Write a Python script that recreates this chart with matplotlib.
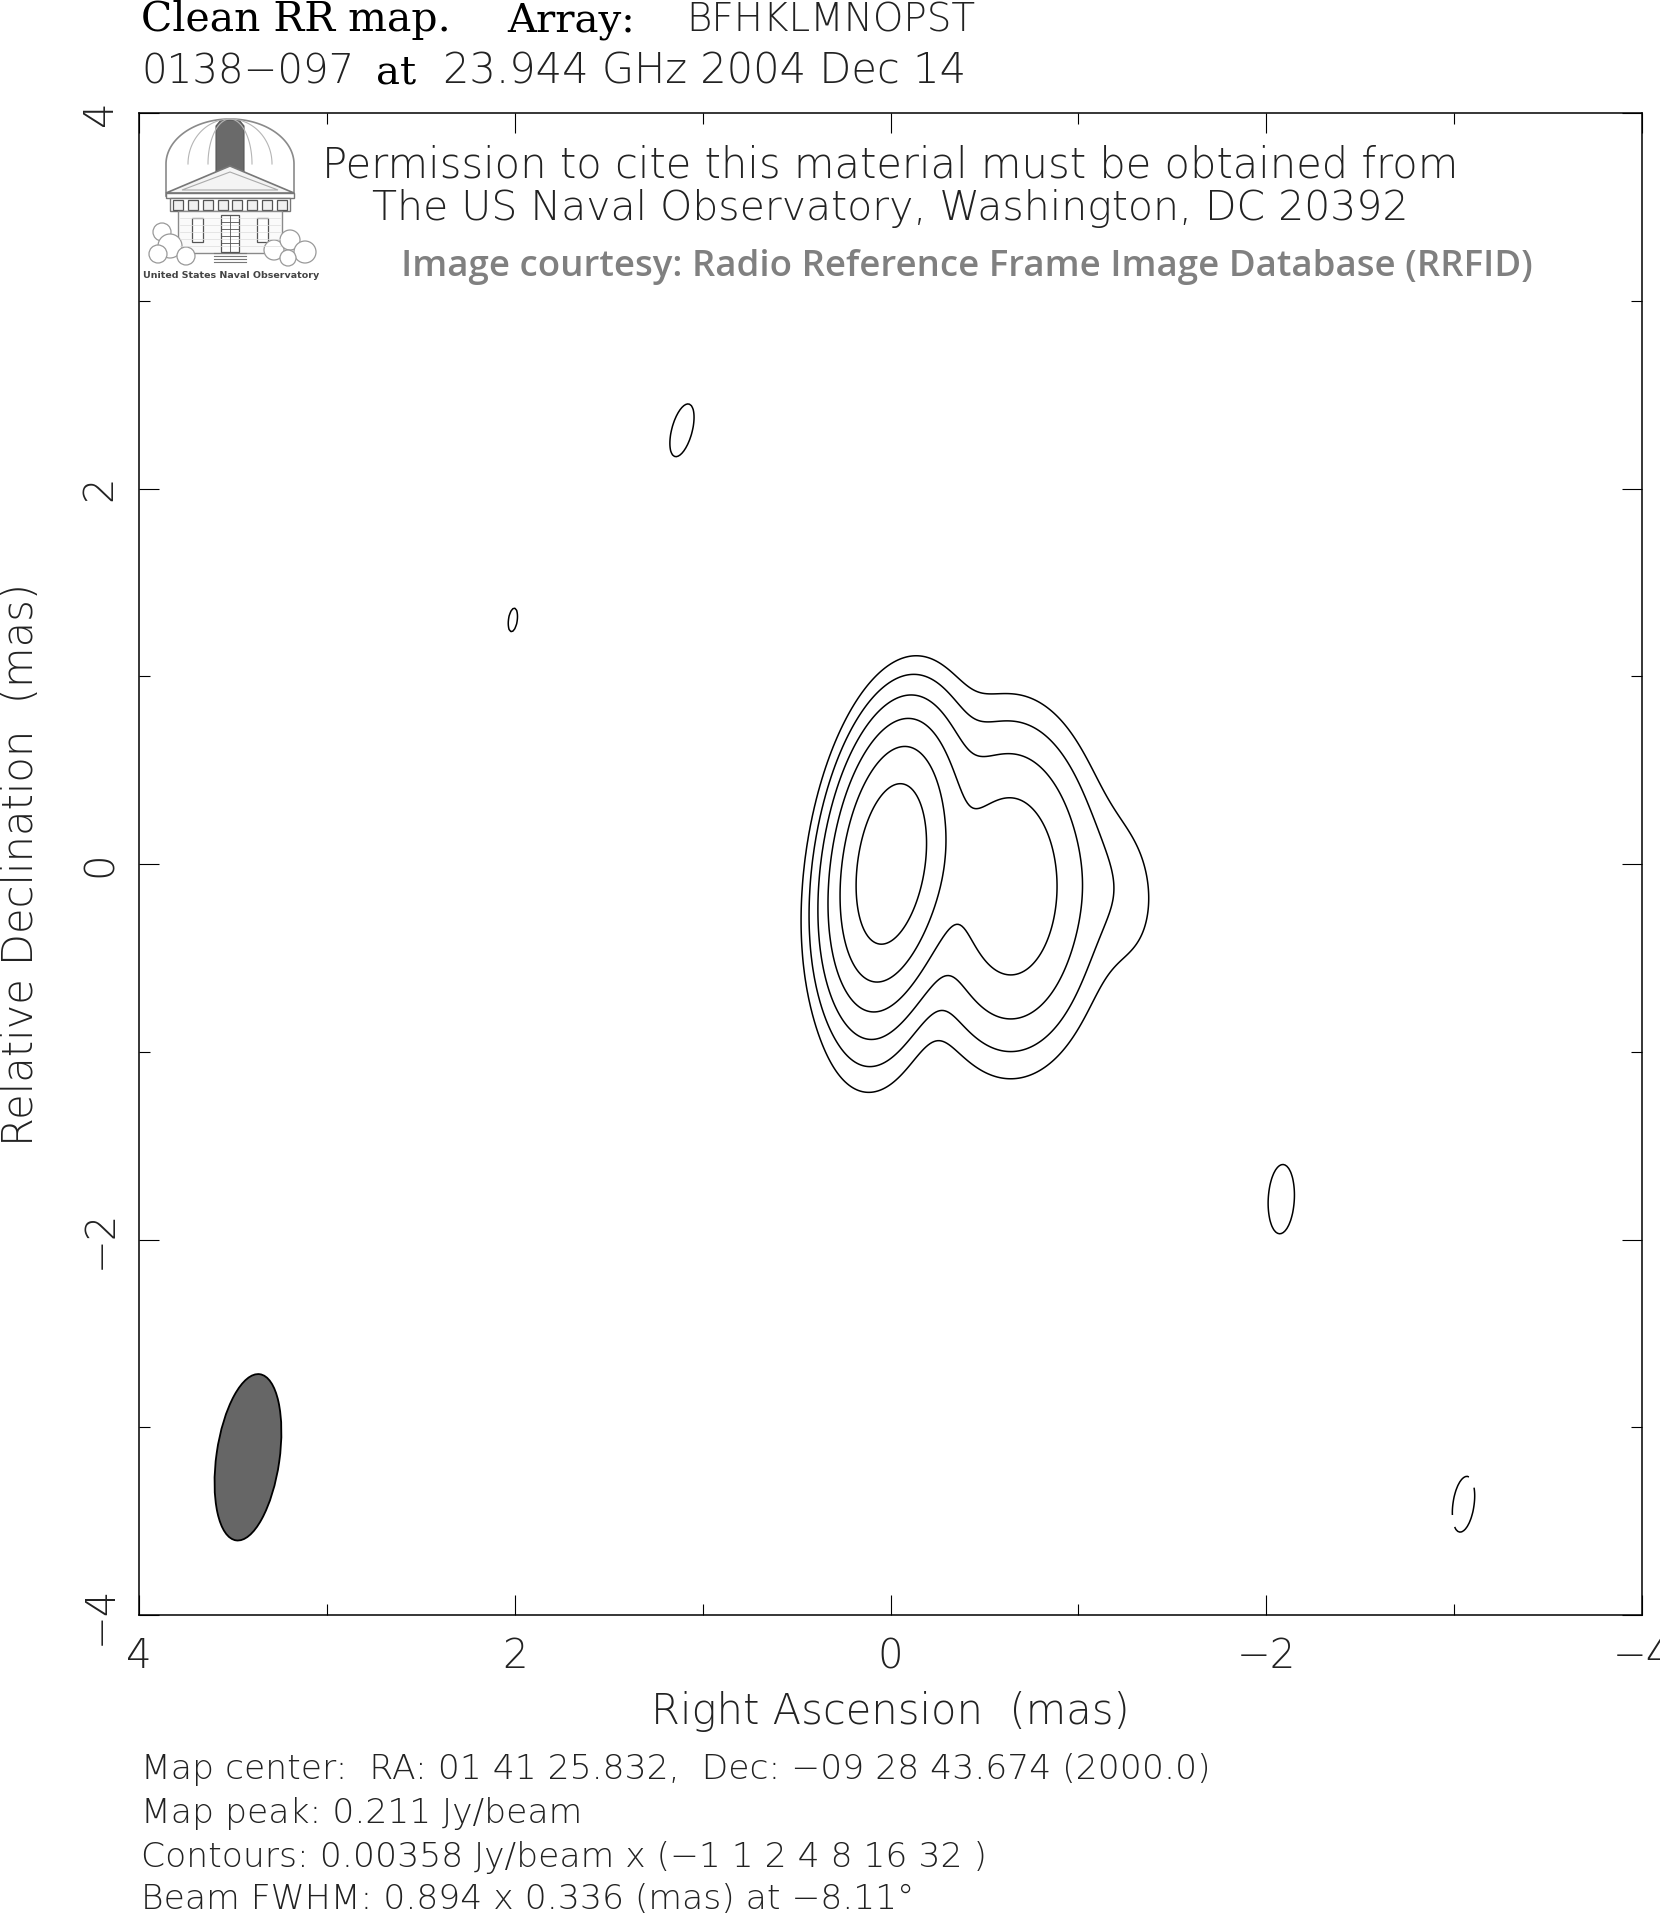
#! /usr/bin/env python3

import numpy as np
import matplotlib
matplotlib.use('Agg')
import matplotlib.pyplot as plt
from matplotlib.patches import Ellipse, Polygon, Rectangle, Circle

# map annotation values
unit = 0.00358                      # Jy/beam, lowest contour
contour_mult = [-1, 1, 2, 4, 8, 16, 32]
beam_maj = 0.894                    # mas
beam_min = 0.336
beam_pa = -8.11                     # deg
beam_ra = 3.42
beam_dec = -3.16

# clean-map components (mas, Jy/beam, FWHM mas, PA deg)
comp_ra   = [0.00, -0.64, -1.25, 0.08, 1.11, 2.01, -2.08, -3.05]
comp_dec  = [0.00, -0.12, -0.15, -1.00, 2.31, 1.30, -1.785, -3.41]
comp_peak = [0.209, 0.050, 0.0045, 0.003, 0.00385, 0.00363, 0.00403, -0.00387]
comp_maj  = [0.92, 1.05, 0.75, 0.60, 0.894, 0.894, 0.894, 0.894]
comp_min  = [0.375, 0.545, 0.36, 0.40, 0.336, 0.336, 0.336, 0.336]
comp_pa   = [-8.0, 0.0, 5.0, -8.0, -15.0, -8.0, -3.0, -8.0]

tick_pos = [4, 2, 0, -2, -4]
tick_lab = ['4', '2', '0', '\u22122', '\u22124']

W, H = 1660, 1916
SANS = 'DejaVu Sans'
SERIF = 'DejaVu Serif'
INK = '#222222'
THIN = 200


def fx(px):
	return px / W


def fy(py):
	return 1 - py / H


def make_map():
	ra = np.linspace(-4.2, 4.2, 841)
	dec = np.linspace(-4.2, 4.2, 841)
	RA, DEC = np.meshgrid(ra, dec)
	img = np.zeros_like(RA)
	for x0, y0, a, mj, mn, pa in zip(comp_ra, comp_dec, comp_peak, comp_maj, comp_min, comp_pa):
		t = np.radians(pa)
		dx = RA - x0
		dy = DEC - y0
		u = dx * np.sin(t) + dy * np.cos(t)
		v = dx * np.cos(t) - dy * np.sin(t)
		img += a * np.exp(-4 * np.log(2) * (u**2 / mj**2 + v**2 / mn**2))
	return RA, DEC, img


def draw_logo(fig):
	# USNO emblem, drawn in figure pixel units
	lg = fig.add_axes([fx(140), fy(290), 185 / W, 175 / H])
	lg.set_xlim(140, 325)
	lg.set_ylim(290, 115)
	lg.axis('off')
	edge = '#8a8a8a'
	# dome on a drum
	th = np.linspace(0, np.pi, 100)
	dx = np.concatenate([[294], 230 + 64 * np.cos(th), [166]])
	dy = np.concatenate([[196], 164 - 45 * np.sin(th), [196]])
	lg.fill(dx, dy, color='white', ec=edge, lw=1.2)
	for rx in [42, 22]:
		lg.plot(230 + rx * np.cos(th), 164 - 45 * np.sin(th), color='#b5b5b5', lw=0.8)
	lg.add_patch(Polygon([(216, 126), (221, 120), (239, 120), (244, 126), (244, 190), (216, 190)],
						 closed=True, fc='#6a6a6a', ec='#555555', lw=0.8))
	# roof
	lg.add_patch(Polygon([(166, 193), (230, 166), (294, 193)], closed=True, fc='#f4f4f4', ec='#777777', lw=1.2))
	lg.add_patch(Polygon([(182, 190), (230, 172), (278, 190)], closed=True, fc='none', ec='#aaaaaa', lw=0.8))
	# colonnade
	lg.add_patch(Rectangle((166, 193), 128, 5, fc='white', ec='#777777', lw=1))
	lg.add_patch(Rectangle((170, 198), 120, 13, fc='white', ec='#777777', lw=1))
	for wx in np.linspace(173, 277, 8):
		lg.add_patch(Rectangle((wx, 200), 10, 10, fc='#f0f0f0', ec='#555555', lw=0.9))
	# lower wall with door and windows
	lg.add_patch(Rectangle((178, 211), 104, 42, fc='#fafafa', ec=edge, lw=1))
	for by in [218, 225, 232, 239, 246]:
		lg.plot([180, 280], [by, by], color='#dddddd', lw=0.5)
	lg.add_patch(Rectangle((221, 215), 18, 37, fc='white', ec='#555555', lw=0.9))
	lg.plot([230, 230], [215, 252], color='#555555', lw=0.6)
	for wy in [222, 229, 236, 243]:
		lg.plot([221, 239], [wy, wy], color='#555555', lw=0.6)
	for wx in [192, 257]:
		lg.add_patch(Rectangle((wx, 218), 11, 24, fc='white', ec='#555555', lw=0.9))
	for sy in [253, 256, 259, 262]:
		lg.plot([214, 246], [sy, sy], color='#777777', lw=0.8)
	# bushes
	for cx, cy, r in [(162, 232, 9), (170, 246, 12), (158, 254, 9), (186, 256, 9),
					  (274, 250, 10), (290, 240, 10), (305, 252, 11), (288, 258, 8)]:
		lg.add_patch(Circle((cx, cy), r, fc='white', ec='#999999', lw=0.9))
	lg.text(231, 276, 'United States Naval Observatory', ha='center', va='center',
			fontsize=6.8, fontweight='bold', color='#444444', family=SANS)


def main():
	fig = plt.figure(figsize=(W / 100, H / 100), dpi=100)
	ax = fig.add_axes([fx(139), fy(1615), 1503 / W, 1502 / H])

	RA, DEC, img = make_map()
	levels = np.array(contour_mult) * unit
	ax.contour(RA, DEC, img, levels=levels, colors='black', linewidths=1.1,
			   negative_linestyles=(0, (30, 8)))

	ax.add_patch(Ellipse((beam_ra, beam_dec), width=beam_min, height=beam_maj, angle=-beam_pa,
						 facecolor='#666666', edgecolor='black', lw=1.3))

	ax.set_xlim(4, -4)
	ax.set_ylim(-4, 4)
	ax.set_xticks(tick_pos)
	ax.set_xticklabels(tick_lab)
	ax.set_yticks(tick_pos)
	ax.set_yticklabels(tick_lab)
	ax.set_xticks([3, 1, -1, -3], minor=True)
	ax.set_yticks([3, 1, -1, -3], minor=True)
	ax.tick_params(which='both', direction='in', top=True, right=True, width=0.8)
	ax.tick_params(which='major', length=14.4, labelsize=29, pad=16)
	ax.tick_params(which='minor', length=7.9)
	ax.tick_params(axis='y', labelrotation=90, pad=14)
	for lab in ax.get_xticklabels() + ax.get_yticklabels():
		lab.set_family(SANS)
		lab.set_fontweight(THIN)
		lab.set_color(INK)
	for lab in ax.get_yticklabels():
		lab.set_verticalalignment('center')
		lab.set_horizontalalignment('right')
	for s in ax.spines.values():
		s.set_linewidth(1.1)

	# titles
	fig.text(fx(141), fy(31), 'Clean RR map.', family=SERIF, fontsize=29.5, va='baseline')
	fig.text(fx(507), fy(31), 'Array:', family=SERIF, fontsize=29, va='baseline')
	fig.text(fx(686), fy(31), 'BFHKLMNOPST', family=SANS, fontweight=THIN, fontsize=28,
			 va='baseline', color=INK)
	fig.text(fx(141), fy(84), '0138\u2212097', family=SANS, fontweight=THIN, fontsize=29,
			 va='baseline', color=INK)
	fig.text(fx(376), fy(84), 'at', family=SERIF, fontsize=29, va='baseline')
	fig.text(fx(443), fy(84), '23.944 GHz 2004 Dec 14', family=SANS, fontweight=THIN, fontsize=30,
			 va='baseline', color=INK)

	# permission notice
	fig.text(fx(890), fy(177), 'Permission to cite this material must be obtained from',
			 family=SANS, fontweight=THIN, fontsize=30, ha='center', va='baseline', color=INK)
	fig.text(fx(890), fy(220), 'The US Naval Observatory, Washington, DC 20392',
			 family=SANS, fontweight=THIN, fontsize=29.5, ha='center', va='baseline', color=INK)
	fig.text(fx(967), fy(276), 'Image courtesy: Radio Reference Frame Image Database (RRFID)',
			 family='Open Sans', fontweight='semibold', fontsize=26.4, ha='center', va='baseline',
			 color='#808080')
	draw_logo(fig)

	# axis labels
	fig.text(fx(890), fy(1724), 'Right Ascension  (mas)', family=SANS, fontweight=THIN, fontsize=30,
			 ha='center', va='baseline', color=INK)
	fig.text(fx(21), fy(864), 'Relative Declination  (mas)', family=SANS, fontweight=THIN, fontsize=30,
			 rotation=90, ha='center', va='center', color=INK)

	# map info
	info = ['Map center:  RA: 01 41 25.832,  Dec: \u221209 28 43.674 (2000.0)',
			'Map peak: 0.211 Jy/beam',
			'Contours: 0.00358 Jy/beam x (\u22121 1 2 4 8 16 32 )',
			'Beam FWHM: 0.894 x 0.336 (mas) at \u22128.11\u00b0']
	for line, py in zip(info, [1779, 1823, 1867, 1909]):
		fig.text(fx(141), fy(py), line, family=SANS, fontweight=THIN, fontsize=24.8,
				 va='baseline', color=INK)

	fig.savefig('out.png', dpi=100)
	plt.close(fig)


if __name__ == "__main__":
	main()
